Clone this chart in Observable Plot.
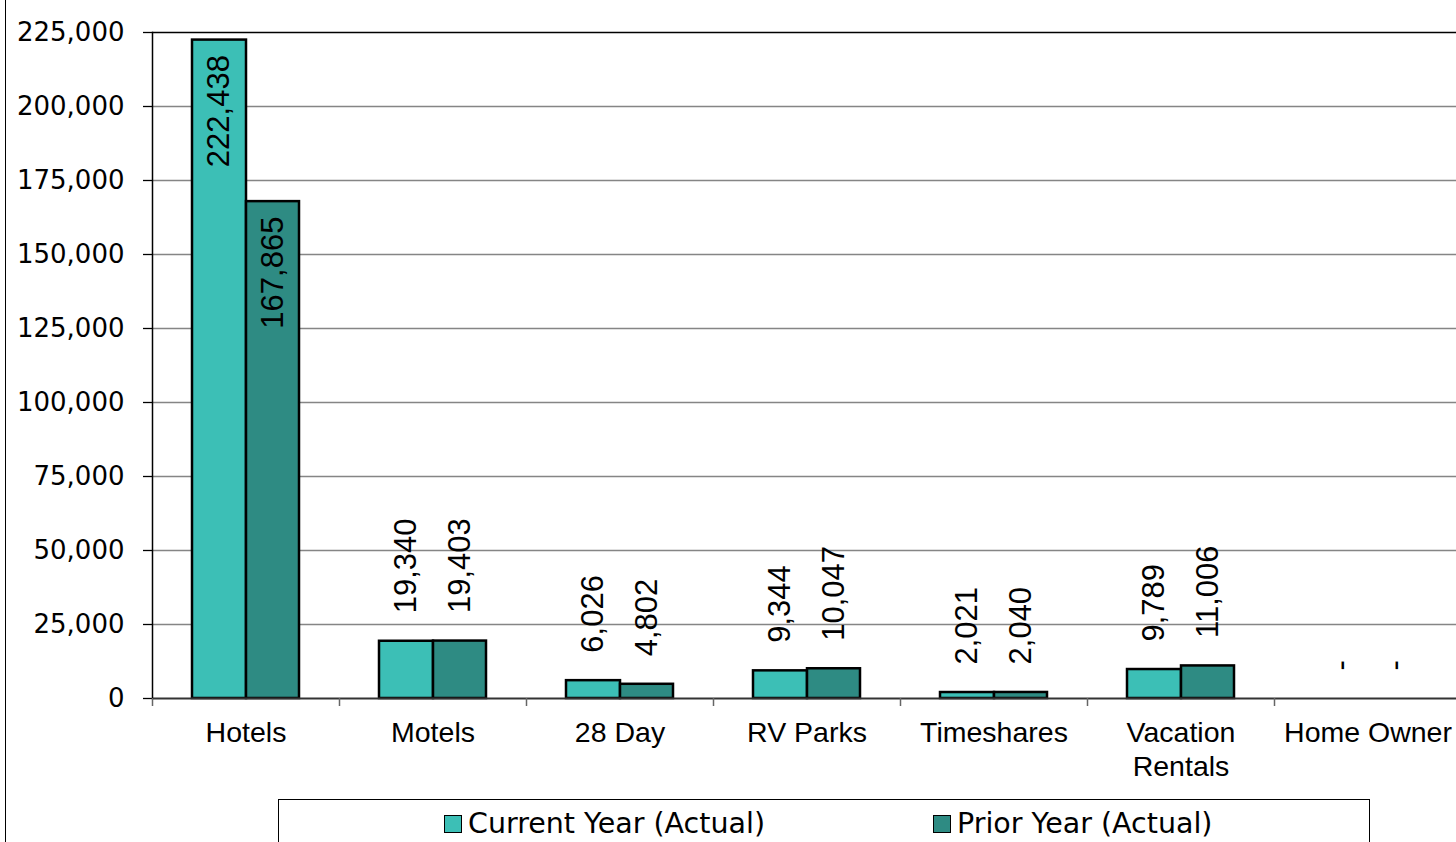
<!DOCTYPE html>
<html><head><meta charset="utf-8">
<script src="https://cdn.jsdelivr.net/npm/d3@7"></script>
<script src="https://cdn.jsdelivr.net/npm/@observablehq/plot@0.6"></script>
<style>
body{margin:0;background:#fff;}
#wrap{position:relative;width:1456px;height:842px;overflow:hidden;background:#fff;}
#chart svg{display:block;max-width:none !important;}
#border{position:absolute;left:5px;top:0;height:842px;border-left:1.5px solid #000;}
#legend{position:absolute;left:278px;top:799px;width:1092px;height:80px;border:1.5px solid #000;box-sizing:border-box;font-family:"DejaVu Sans";font-size:28.5px;color:#000;}
.item{position:absolute;top:7px;display:flex;align-items:center;line-height:33px;white-space:nowrap;}
.sw{width:16px;height:16px;border:1.5px solid #000;margin-right:6px;}
</style></head><body>
<div id="wrap"><div id="chart"></div><div id="border"></div><div id="legend"></div></div>
<script>
const categories = ["Hotels", "Motels", "28 Day", "RV Parks", "Timeshares", "Vacation Rentals", "Home Owner"];
const currentYear = [222438, 19340, 6026, 9344, 2021, 9789, 0];
const priorYear = [167865, 19403, 4802, 10047, 2040, 11006, 0];
const seriesNames = ["Current Year (Actual)", "Prior Year (Actual)"];
const seriesColors = ["#3cbfb6", "#2e8b83"];
const yTicks = [0, 25000, 50000, 75000, 100000, 125000, 150000, 175000, 200000, 225000];
const categoryLabels = {"Vacation Rentals": "Vacation\nRentals"};

const cur = categories.map((c, i) => ({category: c, value: currentYear[i]}));
const pri = categories.map((c, i) => ({category: c, value: priorYear[i]}));
const fmt = v => v === 0 ? "-" : d3.format(",")(v);
const insideThreshold = 100000;

function labels(data, dx) {
  return [
    Plot.text(data.filter(d => d.value > insideThreshold), {
      x: "category", y: "value", text: d => fmt(d.value), rotate: -90,
      textAnchor: "end", dx, dy: 15, fontSize: 31, fontFamily: "Liberation Sans, Arial, sans-serif", fill: "#000"
    }),
    Plot.text(data.filter(d => d.value <= insideThreshold), {
      x: "category", y: "value", text: d => fmt(d.value), rotate: -90,
      textAnchor: "start", dx, dy: -28, fontSize: 31, fontFamily: "Liberation Sans, Arial, sans-serif", fill: "#000"
    })
  ];
}

const chart = Plot.plot({
  width: 1470,
  height: 798,
  marginTop: 32,
  marginBottom: 100,
  marginLeft: 152,
  marginRight: 9,
  style: {fontFamily: "DejaVu Sans", background: "#fff", color: "#000", maxWidth: "none"},
  x: {domain: categories, padding: 0, axis: null},
  y: {domain: [0, 225000], nice: false, axis: null},
  marks: [
    Plot.gridY(yTicks.slice(1, -1), {stroke: "#858585", strokeOpacity: 1, strokeWidth: 1.3}),
    Plot.axisY({ticks: yTicks, label: null, tickFormat: d3.format(","), tickSize: 9, tickPadding: 19, fontSize: 26, stroke: "#000", strokeWidth: 1.3}),
    Plot.barY(cur, {x: "category", y: "value", fill: seriesColors[0], stroke: "#000", strokeWidth: 2.5, insetLeft: 40, insetRight: 93}),
    Plot.barY(pri, {x: "category", y: "value", fill: seriesColors[1], stroke: "#000", strokeWidth: 2.5, insetLeft: 94, insetRight: 40}),
    Plot.ruleY([0], {stroke: "#333", strokeWidth: 2}),
    Plot.ruleY([225000], {stroke: "#000", strokeWidth: 1.5}),
    Plot.frame({anchor: "left", stroke: "#000", strokeWidth: 1.5}),
    Plot.axisX({label: null, tickSize: 8, tickFormat: () => "", dx: -93.5, stroke: "#666", strokeWidth: 1.5}),
    Plot.axisX({label: null, tickSize: 0, tickPadding: 20, tickFormat: d => categoryLabels[d] ?? d, fontSize: 28.5, lineHeight: 1.18, fontFamily: "Liberation Sans, Arial, sans-serif", fill: "#000"}),
    ...labels(cur, -26.5),
    ...labels(pri, 27)
  ]
});
document.getElementById("chart").append(chart);

const legend = document.getElementById("legend");
const lefts = [165, 654];
seriesNames.forEach((name, i) => {
  const item = document.createElement("div");
  item.className = "item";
  item.style.left = lefts[i] + "px";
  const sw = document.createElement("span");
  sw.className = "sw";
  sw.style.background = seriesColors[i];
  const t = document.createElement("span");
  t.textContent = name;
  item.append(sw, t);
  legend.append(item);
});
</script>
</body></html>
